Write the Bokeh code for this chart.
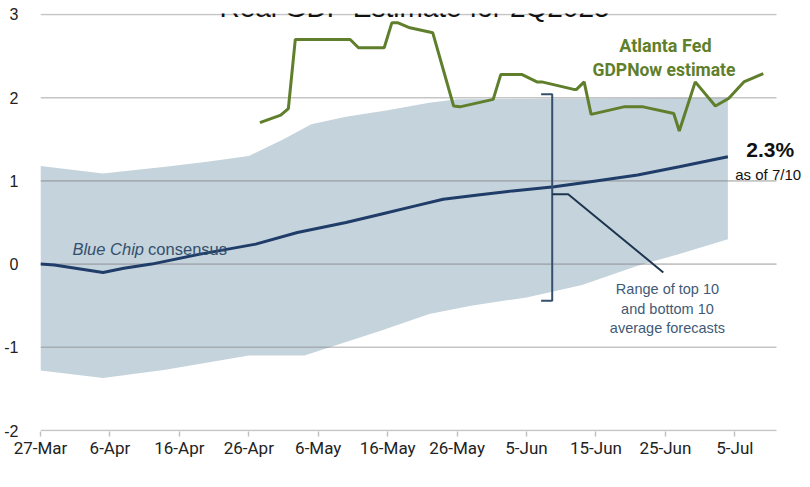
from bokeh.plotting import figure
from bokeh.models import Label, FixedTicker, Range1d
from bokeh.embed import file_html
from bokeh.resources import INLINE

# ---- data (x = days since 27-Mar) ----
tick_days = [0, 10, 20, 30, 40, 50, 60, 70, 80, 90, 100]
tick_labels = ["27-Mar", "6-Apr", "16-Apr", "26-Apr", "6-May", "16-May",
               "26-May", "5-Jun", "15-Jun", "25-Jun", "5-Jul"]
y_ticks = [-2, -1, 0, 1, 2, 3]
y_tick_labels = ["-2", "-1", "0", "1", "2", "3"]
axis_end_day = 106

upper_days = [0, 9, 18, 24, 30, 35, 39, 44, 50, 56, 60, 99]
upper_vals = [1.18, 1.09, 1.17, 1.23, 1.30, 1.50, 1.68, 1.77, 1.85, 1.94, 1.98, 2.00]

lower_days = [0, 9, 18, 30, 38, 42, 49, 56, 62, 70, 78, 86, 92, 99]
lower_vals = [-1.28, -1.37, -1.27, -1.10, -1.10, -0.99, -0.80, -0.60, -0.50,
              -0.40, -0.25, -0.02, 0.12, 0.30]

bluechip_days = [0, 2, 9, 12, 16, 23, 31, 37, 44, 49, 54, 58, 63, 68, 74, 80, 86, 92, 99]
bluechip_vals = [0.00, -0.01, -0.10, -0.05, 0.00, 0.12, 0.24, 0.38, 0.50, 0.60,
                 0.70, 0.78, 0.83, 0.88, 0.93, 1.00, 1.07, 1.17, 1.29]

gdpnow_days = [31.6, 34.6, 35.7, 36.7, 44.6, 45.8, 49.5, 50.6, 51.5, 53.2, 56.5,
               59.5, 60.4, 65.2, 66.3, 69.3, 71.5, 72.2, 76.8, 77.2, 78.3, 79.3,
               84.0, 86.8, 91.2, 92.0, 94.3, 97.2, 99.1, 101.3, 104.1]
gdpnow_vals = [1.70, 1.79, 1.87, 2.70, 2.70, 2.60, 2.60, 2.90, 2.90, 2.84, 2.78,
               1.90, 1.89, 1.98, 2.28, 2.28, 2.19, 2.19, 2.10, 2.10, 2.19, 1.80,
               1.89, 1.89, 1.81, 1.60, 2.19, 1.90, 1.99, 2.19, 2.29]

# ---- styles ----
BAND = "#c5d3dc"
BLUE = "#1f3d68"
GREEN = "#5f7f2c"
SLATE = "#34506d"
NARROW = "Roboto"
SANS = "Liberation Sans"

p = figure(width=810, height=487, output_backend="svg", toolbar_location=None,
           x_range=Range1d(0, 110.9), y_range=Range1d(-2.012, 3.012),
           min_border_left=40, min_border_right=0, min_border_top=13,
           min_border_bottom=56)
p.outline_line_color = None
p.background_fill_color = "white"
p.xgrid.visible = False
p.ygrid.visible = False

# band
band_x = upper_days + lower_days[::-1]
band_y = upper_vals + lower_vals[::-1]
p.patch(band_x, band_y, fill_color=BAND, line_color=None)

# gridlines (drawn over the band), ending where the axis ends
n = len(y_ticks)
p.segment(x0=[0] * n, x1=[axis_end_day] * n, y0=y_ticks, y1=y_ticks,
          line_color="#7f7f7f", line_alpha=0.45, line_width=1.6)

# lines
p.line(bluechip_days, bluechip_vals, line_color=BLUE, line_width=3)
p.line(gdpnow_days, gdpnow_vals, line_color=GREEN, line_width=3)

# bracket and pointer
p.line([72.1, 73.7, 73.7, 72.1], [2.04, 2.04, -0.44, -0.44], line_color=SLATE, line_width=2)
p.line([73.7, 76.0, 89.7], [0.84, 0.84, -0.10], line_color="#1e3550", line_width=2)

# axes
p.yaxis.ticker = FixedTicker(ticks=y_ticks)
p.yaxis.major_label_overrides = {t: l for t, l in zip(y_ticks, y_tick_labels)}
p.yaxis.axis_line_color = None
p.yaxis.major_tick_line_color = None
p.yaxis.minor_tick_line_color = None
p.yaxis.major_label_standoff = 16
p.yaxis.major_label_text_font = SANS
p.yaxis.major_label_text_font_size = "16px"
p.yaxis.major_label_text_color = "#222222"

p.xaxis.ticker = FixedTicker(ticks=tick_days)
p.xaxis.major_label_overrides = {d: l for d, l in zip(tick_days, tick_labels)}
p.xaxis.axis_line_color = None
p.xaxis.major_tick_line_color = "#bfbfbf"
p.xaxis.major_tick_line_width = 1.4
p.xaxis.major_tick_out = 5
p.xaxis.major_tick_in = 0
p.xaxis.minor_tick_line_color = None
p.xaxis.major_label_standoff = 1
p.xaxis.major_label_text_font = NARROW
p.xaxis.major_label_text_font_size = "17px"
p.xaxis.major_label_text_color = "#222222"

# texts
p.add_layout(Label(x=53.9, y=3.084, text="Real GDP Estimate for 2Q2025",
                   text_font=SANS, text_font_size="28px", text_color="#111111",
                   text_align="center", text_baseline="alphabetic"))
p.add_layout(Label(x=51.0, y=-2.577, text="Date of forecast", text_font=NARROW,
                   text_font_style="bold", text_font_size="15.5px", text_color="#222222",
                   text_align="center", text_baseline="middle"))
p.add_layout(Label(x=90.0, y=2.63, text="Atlanta Fed", text_font=NARROW,
                   text_font_style="bold", text_font_size="18px", text_color=GREEN,
                   text_align="center", text_baseline="middle"))
p.add_layout(Label(x=89.8, y=2.33, text="GDPNow estimate", text_font=NARROW,
                   text_font_style="bold", text_font_size="17.5px", text_color=GREEN,
                   text_align="center", text_baseline="middle"))
p.add_layout(Label(x=105.1, y=1.38, text="2.3%", text_font=SANS,
                   text_font_style="bold", text_font_size="21px", text_color="#111111",
                   text_align="center", text_baseline="alphabetic"))
p.add_layout(Label(x=104.8, y=1.08, text="as of 7/10", text_font=SANS,
                   text_font_size="15px", text_color="#111111",
                   text_align="center", text_baseline="alphabetic"))
p.add_layout(Label(x=4.6, y=0.18, text="Blue Chip", text_font=SANS,
                   text_font_style="italic", text_font_size="16.5px", text_color=SLATE,
                   text_align="left", text_baseline="alphabetic"))
p.add_layout(Label(x=15.5, y=0.18, text="consensus", text_font=SANS,
                   text_font_size="16.5px", text_color=SLATE,
                   text_align="left", text_baseline="alphabetic"))
for i, line in enumerate(["Range of top 10", "and bottom 10", "average forecasts"]):
    p.add_layout(Label(x=90.3, y=-0.30 - i * 0.235, text=line, text_font=SANS,
                       text_font_size="14.5px", text_color="#3f5a76",
                       text_align="center", text_baseline="middle"))

open("out.html", "w").write(file_html(p, INLINE))
